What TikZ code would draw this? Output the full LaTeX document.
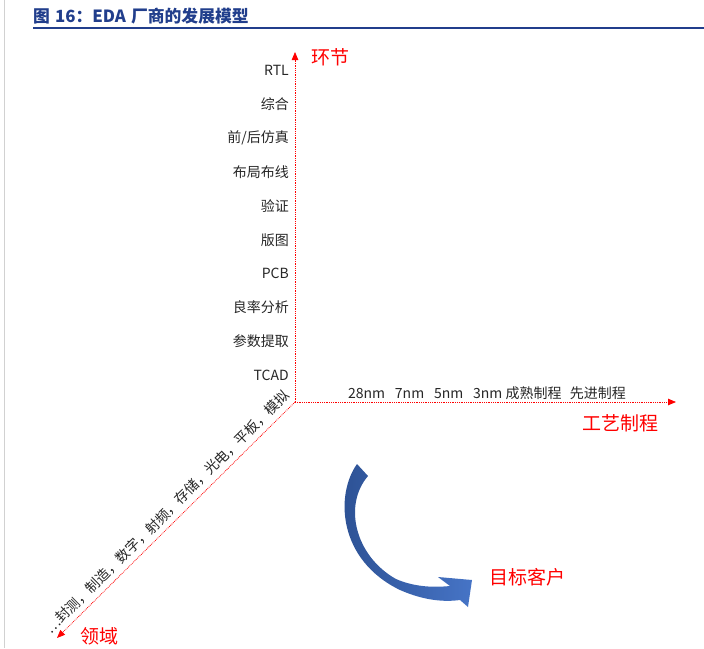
\documentclass[tikz,border=0pt]{standalone}
\usepackage{fontspec}
\setmainfont{Noto Sans CJK SC}
\usetikzlibrary{arrows.meta}
\definecolor{titleblue}{RGB}{33,62,140}
\definecolor{labelgray}{RGB}{38,38,38}
\definecolor{arrowdark}{RGB}{44,80,146}
\definecolor{arrowlight}{RGB}{70,116,198}
\tikzstyle{axis}=[draw=red, densely dotted, line width=0.8pt, -{Triangle[length=8pt,width=6.5pt]}]
\tikzstyle{title}=[anchor=west, inner sep=0pt, text=titleblue, font=\fontsize{16.8}{17}\selectfont\bfseries]
\tikzstyle{stage}=[anchor=east, inner sep=0pt, text=labelgray, font=\fontsize{14}{14}\selectfont]
\tikzstyle{ticks}=[inner sep=0pt, text=labelgray, font=\fontsize{14}{14}\selectfont]
\tikzstyle{axisname}=[inner sep=0pt, text=red, font=\fontsize{19}{19}\selectfont]
\tikzstyle{bigarrow}=[left color=arrowdark, right color=arrowlight]

\begin{document}
\begin{tikzpicture}[x=1pt, y=-1pt]
	\useasboundingbox (0,0) rectangle (704,648);
	
	%The page edge and the title
	\draw[black!18] (4,0) -- (4,648);
	\draw (33,16) node[title] (title) {图\hspace{0.3em}16：EDA\hspace{0.3em}厂商的发展模型};
	\coordinate (ruleend) at (704,28);
	\draw[titleblue, line width=2pt] (title.west |- ruleend) -- (ruleend);
	
	%The three axes
	\coordinate (origin) at (295,402);
	\coordinate (stagetip) at (295,52);
	\coordinate (processtip) at (676,402);
	\coordinate (fieldtip) at (57,638);
	\draw[axis] (origin) -- (stagetip);
	\draw[axis] (origin) -- (processtip);
	\draw[axis] (origin) -- (fieldtip);
	
	%The axis names
	\draw (330,57) node[axisname] (stagename) {环节};
	\draw (620,423) node[axisname] (processname) {工艺制程};
	\draw (99,636) node[axisname] (fieldname) {领域};
	
	%The stages along the vertical axis
	\draw (289,70) node[stage] (rtl) {RTL};
	\draw (289,104) node[stage] (synth) {综合};
	\draw (289,138) node[stage] (sim) {前/后仿真};
	\draw (289,172) node[stage] (pnr) {布局布线};
	\draw (289,206) node[stage] (verify) {验证};
	\draw (289,240) node[stage] (layout) {版图};
	\draw (289,273) node[stage] (pcb) {PCB};
	\draw (289,307) node[stage] (yield) {良率分析};
	\draw (289,341) node[stage] (extract) {参数提取};
	\draw (289,375) node[stage] (tcad) {TCAD};
	
	%The process nodes along the horizontal axis
	\draw (487,393) node[ticks] (nodes) {28nm\hspace{0.7em}7nm\hspace{0.7em}5nm\hspace{0.7em}3nm 成熟制程\hspace{0.6em}先进制程};
	
	%The fields along the diagonal axis
	\draw (167,512) node[ticks, rotate=44.8] (fields) {…封测，制造，数字，射频，存储，光电，平板，模拟};
	
	%The curved arrow to the customers
	\shade[bigarrow] (357,464) .. controls (335,495) and (338,560) .. (400,590)
		.. controls (425,601) and (445,602) .. (460,600)
		-- (468,607) -- (472,580) -- (438,577) -- (450,586)
		.. controls (430,588) and (412,586) .. (396,579)
		.. controls (355,556) and (343,505) .. (368,476) -- cycle;
	\draw (527,577) node[axisname] (customer) {目标客户};
\end{tikzpicture}
\end{document}
